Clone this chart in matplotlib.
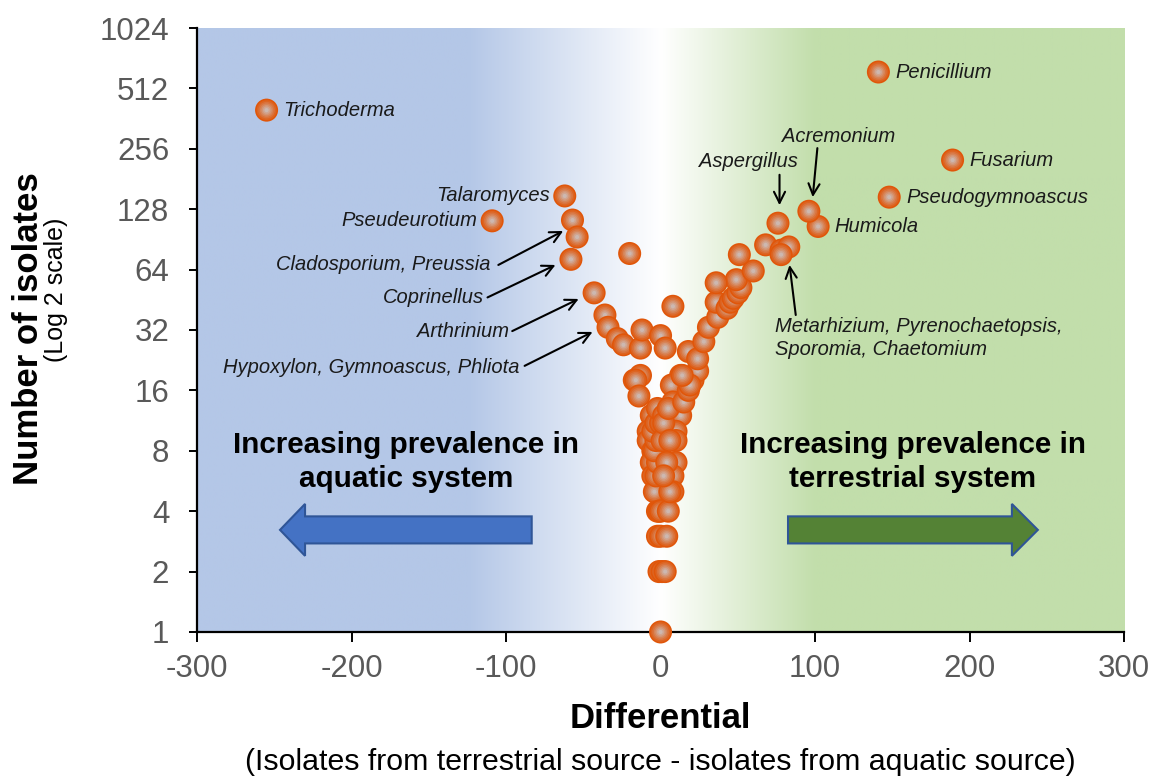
import numpy as np
import matplotlib
matplotlib.use("Agg")
import matplotlib.pyplot as plt
from matplotlib.colors import to_rgb
from matplotlib.patches import Polygon

plt.rcParams['font.family'] = ['Liberation Sans', 'DejaVu Sans']

# ---------------------------------------------------------------
#  Data: differential (terrestrial - aquatic) vs total isolates
# ---------------------------------------------------------------
# genera labelled right next to their marker
genus_named = ['Trichoderma', 'Talaromyces', 'Pseudeurotium', 'Penicillium',
               'Fusarium', 'Pseudogymnoascus', 'Humicola']
diff_named = [-255, -62, -109, 141, 189, 148, 102]
total_named = [399, 149, 112, 618, 225, 147, 105]
label_side = ['right', 'left', 'left', 'right', 'right', 'right', 'right']

# genera without a label
diff_other = [96, 76,
              -57, -54, -58, -43, -36, -34, -28, -24, -13, -12, -20, 0, 3, 8,
              -17, -13, -16, -14, -6, -8, -8, -5, -6, -5, -3, -2, -2, -1, 0,
              -4, -1, 0, 1, 0, -3, -2, -4, -3, -5, -3, 0, -2, 2, 1,
              13, 7, 8, 13, 10, 10, 10, 8, 8, 5, 4, 3, 2, 5, 6, 4, 6, 2,
              15, 18, 21, 24, 19, 14, 18, 24, 28, 31, 37, 36, 43, 45, 47, 50,
              52, 49, 36, 60, 51, 68, 78, 83, 78]
total_other = [125, 109,
               113, 93, 72, 49, 38, 33, 29, 27, 26, 32, 77, 30, 26, 42,
               18, 19, 18, 15, 12, 10, 9, 8, 7, 6, 5, 4, 3, 2, 1,
               5, 4, 3, 2, 4, 6, 7, 8, 9, 10, 11, 11, 13, 12, 9,
               19, 17, 14, 12, 10, 9, 7, 6, 5, 4, 3, 2, 11, 13, 9, 7, 5, 6,
               14, 16, 18, 20, 17, 19, 25, 23, 28, 33, 37, 44, 41, 44, 46, 49,
               52, 57, 55, 63, 76, 85, 80, 83, 76]

# genera pointed at with an arrow: text, text position, arrow tail, arrow head
callout_text = ['Cladosporium, Preussia', 'Coprinellus', 'Arthrinium',
                'Hypoxylon, Gymnoascus, Phliota', 'Aspergillus', 'Acremonium',
                'Metarhizium, Pyrenochaetopsis,\nSporomia, Chaetomium']
callout_pos = [(-110, 67.5), (-114, 46.2), (-98, 31.3), (-91, 20.9),
               (57, 222), (115, 296), (74, 29.2)]
callout_ha = ['right', 'right', 'right', 'right', 'center', 'center', 'left']
callout_tail = [(-105, 67.5), (-112, 46.5), (-96, 31.6), (-88, 21.2),
                (77, 190), (101.5, 258), (87.5, 38)]
callout_head = [(-63, 99.7), (-68, 67.5), (-53, 45.7), (-44, 31.3),
                (77, 134), (98.5, 147), (83.5, 67.5)]

x_ticks = [-300, -200, -100, 0, 100, 200, 300]
y_ticks = [1, 2, 4, 8, 16, 32, 64, 128, 256, 512, 1024]

# ---------------------------------------------------------------
fig = plt.figure(figsize=(11.53, 7.78), dpi=100)
rect = [0.1709, 0.1877, 0.804, 0.7763]

# background gradient: blue (aquatic) -> white -> green (terrestrial)
bg = fig.add_axes(rect, zorder=0)
gx = np.linspace(-300, 300, 800)
stop_x = [-300, -125, 0, 100, 300]
stop_c = [to_rgb('#B4C7E7'), to_rgb('#B4C7E7'), (1, 1, 1),
          to_rgb('#C2DEAB'), to_rgb('#C2DEAB')]
grad = np.stack([np.interp(gx, stop_x, [c[i] for c in stop_c]) for i in range(3)], axis=-1)
bg.imshow(np.tile(grad[None, :, :], (2, 1, 1)), aspect='auto', extent=[0, 1, 0, 1])
bg.axis('off')

ax = fig.add_axes(rect, zorder=1)
ax.patch.set_alpha(0)
ax.set_yscale('log', base=2)
ax.set_xlim(-300, 300)
ax.set_ylim(1, 1024)
ax.set_xticks(x_ticks)
ax.set_xticklabels([str(v) for v in x_ticks])
ax.set_yticks(y_ticks)
ax.set_yticklabels([str(v) for v in y_ticks])
ax.yaxis.set_minor_locator(matplotlib.ticker.NullLocator())
for s in ['top', 'right']:
    ax.spines[s].set_visible(False)
for s in ['left', 'bottom']:
    ax.spines[s].set_linewidth(1.6)
ax.tick_params(axis='both', direction='out', width=1.4, colors='black',
               labelcolor='#595959', labelsize=22.5)
ax.tick_params(axis='y', length=6, pad=14)
ax.tick_params(axis='x', length=7, pad=9)

# sphere-like markers: concentric discs from orange rim to pale centre
all_x = np.array(diff_named + diff_other, dtype=float)
all_y = np.array(total_named + total_other, dtype=float)
frac = np.array([1.0, 0.86, 0.72, 0.58, 0.45, 0.32, 0.18])
rim, core = np.array(to_rgb('#E0560A')), np.array(to_rgb('#CDB8B0'))
t = np.linspace(0, 1, len(frac)) ** 1.1
layer_c = rim[None, :] * (1 - t[:, None]) + core[None, :] * t[:, None]
base_s = 275
n = len(all_x)
ax.scatter(np.repeat(all_x, len(frac)), np.repeat(all_y, len(frac)),
           s=np.tile(base_s * frac ** 2, n), c=np.tile(layer_c, (n, 1)),
           linewidths=0, zorder=3, clip_on=False)

# labels next to markers
for name, x, y, side in zip(genus_named, diff_named, total_named, label_side):
    off = 12 if side == 'right' else -11
    ax.annotate(name, (x, y), xytext=(off, 0), textcoords='offset points',
                ha='left' if side == 'right' else 'right', va='center',
                fontsize=14.5, style='italic', color='#1a1a1a', zorder=5)

# callouts with arrows
for txt, pos, ha, tail, head in zip(callout_text, callout_pos, callout_ha,
                                    callout_tail, callout_head):
    ax.text(pos[0], pos[1], txt, ha=ha, va='center', fontsize=14.5,
            style='italic', color='#1a1a1a', zorder=5, linespacing=1.25)
    ax.annotate('', xy=head, xytext=tail,
                arrowprops=dict(arrowstyle='->', lw=1.5, color='black',
                                mutation_scale=20, shrinkA=0, shrinkB=0),
                zorder=5)

# big direction arrows
def block_arrow(tail, base, tip, yc, sh, hh, face):
    pts = [(tail, yc + sh), (base, yc + sh), (base, yc + hh), (tip, yc),
           (base, yc - hh), (base, yc - sh), (tail, yc - sh)]
    ax.add_patch(Polygon(pts, closed=True, transform=ax.transAxes,
                         facecolor=face, edgecolor='#2F5597', lw=1.5, zorder=2))

block_arrow(0.361, 0.1165, 0.0895, 0.169, 0.0224, 0.043, '#4472C4')
block_arrow(0.6375, 0.879, 0.907, 0.169, 0.0224, 0.043, '#548235')

ax.text(0.2255, 0.2815, 'Increasing prevalence in\naquatic system',
        transform=ax.transAxes, ha='center', va='center', fontsize=21.3,
        fontweight='bold', color='black', linespacing=1.3, zorder=4)
ax.text(0.772, 0.2815, 'Increasing prevalence in\nterrestrial system',
        transform=ax.transAxes, ha='center', va='center', fontsize=21.3,
        fontweight='bold', color='black', linespacing=1.3, zorder=4)

# axis titles
fig.text(0.0243, 0.578, 'Number of isolates', rotation=90, ha='center',
         va='center', fontsize=25, fontweight='bold')
fig.text(0.0485, 0.627, '(Log 2 scale)', rotation=90, ha='center',
         va='center', fontsize=18)
fig.text(0.5724, 0.0771, 'Differential', ha='center', va='center',
         fontsize=25, fontweight='bold')
fig.text(0.5724, 0.0206, '(Isolates from terrestrial source - isolates from aquatic source)',
         ha='center', va='center', fontsize=21.8)

fig.savefig('out.png', dpi=100)
